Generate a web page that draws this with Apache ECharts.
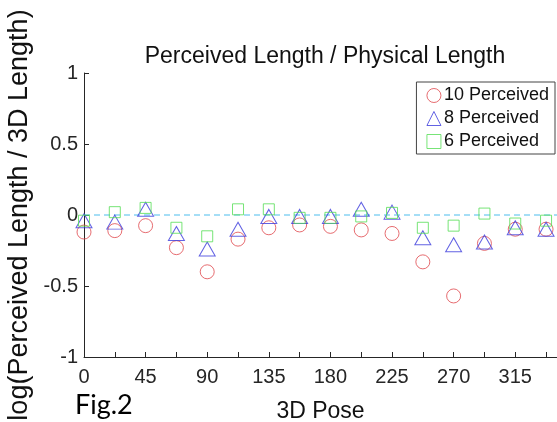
<!DOCTYPE html>
<html>
<head>
<meta charset="utf-8">
<script src="https://cdn.jsdelivr.net/npm/echarts@6/dist/echarts.min.js"></script>
<style>
html, body { margin: 0; padding: 0; background: #fff; }
#main { width: 557px; height: 422px; }
</style>
</head>
<body>
<div id="main"></div>
<script>
// pose angles (deg)
var poses = [0, 22.5, 45, 67.5, 90, 112.5, 135, 157.5, 180, 202.5, 225, 247.5, 270, 292.5, 315, 337.5];
var perceived10 = [-0.12, -0.11, -0.075, -0.23, -0.40, -0.17, -0.09, -0.07, -0.08, -0.105, -0.13, -0.33, -0.57, -0.20, -0.10, -0.10];
var perceived8 = [-0.04, -0.05, 0.04, -0.13, -0.24, -0.10, -0.01, -0.01, -0.01, 0.04, 0.02, -0.16, -0.21, -0.19, -0.09, -0.10];
var perceived6 = [-0.04, 0.02, 0.05, -0.09, -0.15, 0.04, 0.04, -0.02, -0.02, -0.01, 0.015, -0.09, -0.075, 0.01, -0.06, -0.04];
var xTicks = [0, 45, 90, 135, 180, 225, 270, 315];
var xRange = [0, 345.5];
var refLevel = 0;

var fontFam = '"Liberation Sans", Arial, Helvetica, sans-serif';
var axisCol = "#262626";
var red = "#e0474c", blue = "#3b3bdc", green = "#55dd55", cyan = "#4dbeee";

function pairs(vals) {
    return poses.map(function (p, i) { return [p, vals[i]]; });
}

var chart = echarts.init(document.getElementById("main"));
var option = {
    backgroundColor: "#fff",
    animation: false,
    title: {
        text: "Perceived Length / Physical Length",
        left: 320,
        textAlign: "center",
        top: 40,
        textStyle: { fontFamily: fontFam, fontSize: 23, fontWeight: "normal", color: "#111" },
    },
    grid: { left: 84, right: 0, top: 73, bottom: 65, containLabel: false, outerBoundsMode: "none" },
    legend: {
        orient: "vertical",
        right: 2,
        top: 82,
        padding: [4, 6, 3, 8],
        itemGap: 4,
        itemWidth: 14,
        itemHeight: 14,
        borderColor: "#444",
        borderWidth: 1,
        backgroundColor: "#fff",
        textStyle: { fontFamily: fontFam, fontSize: 18, color: "#111", padding: [0, 0, 0, -2] },
        data: [
            { name: "10 Perceived", icon: "circle", itemStyle: { color: "none", borderColor: red, borderWidth: 1 } },
            { name: "8 Perceived", icon: "triangle", itemStyle: { color: "none", borderColor: blue, borderWidth: 1 } },
            { name: "6 Perceived", icon: "rect", itemStyle: { color: "none", borderColor: green, borderWidth: 1 } },
        ],
    },
    xAxis: {
        type: "value",
        min: xRange[0],
        max: xRange[1],
        interval: 22.5,
        name: "3D Pose",
        nameLocation: "middle",
        nameGap: 43,
        nameTextStyle: { fontFamily: fontFam, fontSize: 23, color: "#111" },
        splitLine: { show: false },
        axisLine: { onZero: false, lineStyle: { color: axisCol, width: 1 } },
        axisTick: { inside: true, length: 5, lineStyle: { color: axisCol } },
        axisLabel: {
            interval: 0,
            margin: 10,
            showMaxLabel: false,
            fontFamily: fontFam,
            fontSize: 20,
            color: axisCol,
            formatter: function (v) {
                return xTicks.indexOf(v) >= 0 ? String(v) : "";
            },
        },
    },
    yAxis: {
        type: "value",
        min: -1,
        max: 1,
        interval: 0.5,
        name: "log(Perceived Length / 3D Length)",
        nameLocation: "middle",
        nameGap: 48,
        nameTextStyle: { fontFamily: fontFam, fontSize: 27, color: "#111" },
        splitLine: { show: false },
        axisLine: { show: true, onZero: false, lineStyle: { color: axisCol, width: 1 } },
        axisTick: { show: true, inside: true, length: 5, lineStyle: { color: axisCol } },
        axisLabel: { margin: 6, fontFamily: fontFam, fontSize: 20, color: axisCol },
    },
    graphic: [
        {
            type: "text",
            left: 75,
            top: 392,
            style: { text: "Fig.2", font: '27px Lato, "Open Sans", sans-serif', fill: "#000" },
        },
    ],
    series: [
        {
            // dashed reference line at zero
            name: "zero",
            type: "line",
            silent: true,
            symbol: "none",
            z: 1,
            lineStyle: { color: cyan, type: [6, 4], width: 1.2 },
            data: [[xRange[0], refLevel], [xRange[1], refLevel]],
        },
        {
            name: "10 Perceived",
            type: "scatter",
            symbol: "circle",
            symbolSize: 14,
            z: 2,
            itemStyle: { color: "none", borderColor: red, borderWidth: 1 },
            data: pairs(perceived10),
        },
        {
            name: "8 Perceived",
            type: "scatter",
            symbol: "triangle",
            symbolSize: [16, 14],
            z: 2,
            itemStyle: { color: "none", borderColor: blue, borderWidth: 1 },
            data: pairs(perceived8),
        },
        {
            name: "6 Perceived",
            type: "scatter",
            symbol: "rect",
            symbolSize: [11, 11],
            z: 2,
            itemStyle: { color: "none", borderColor: green, borderWidth: 1 },
            data: pairs(perceived6),
        },
    ],
};
chart.setOption(option);
</script>
</body>
</html>
